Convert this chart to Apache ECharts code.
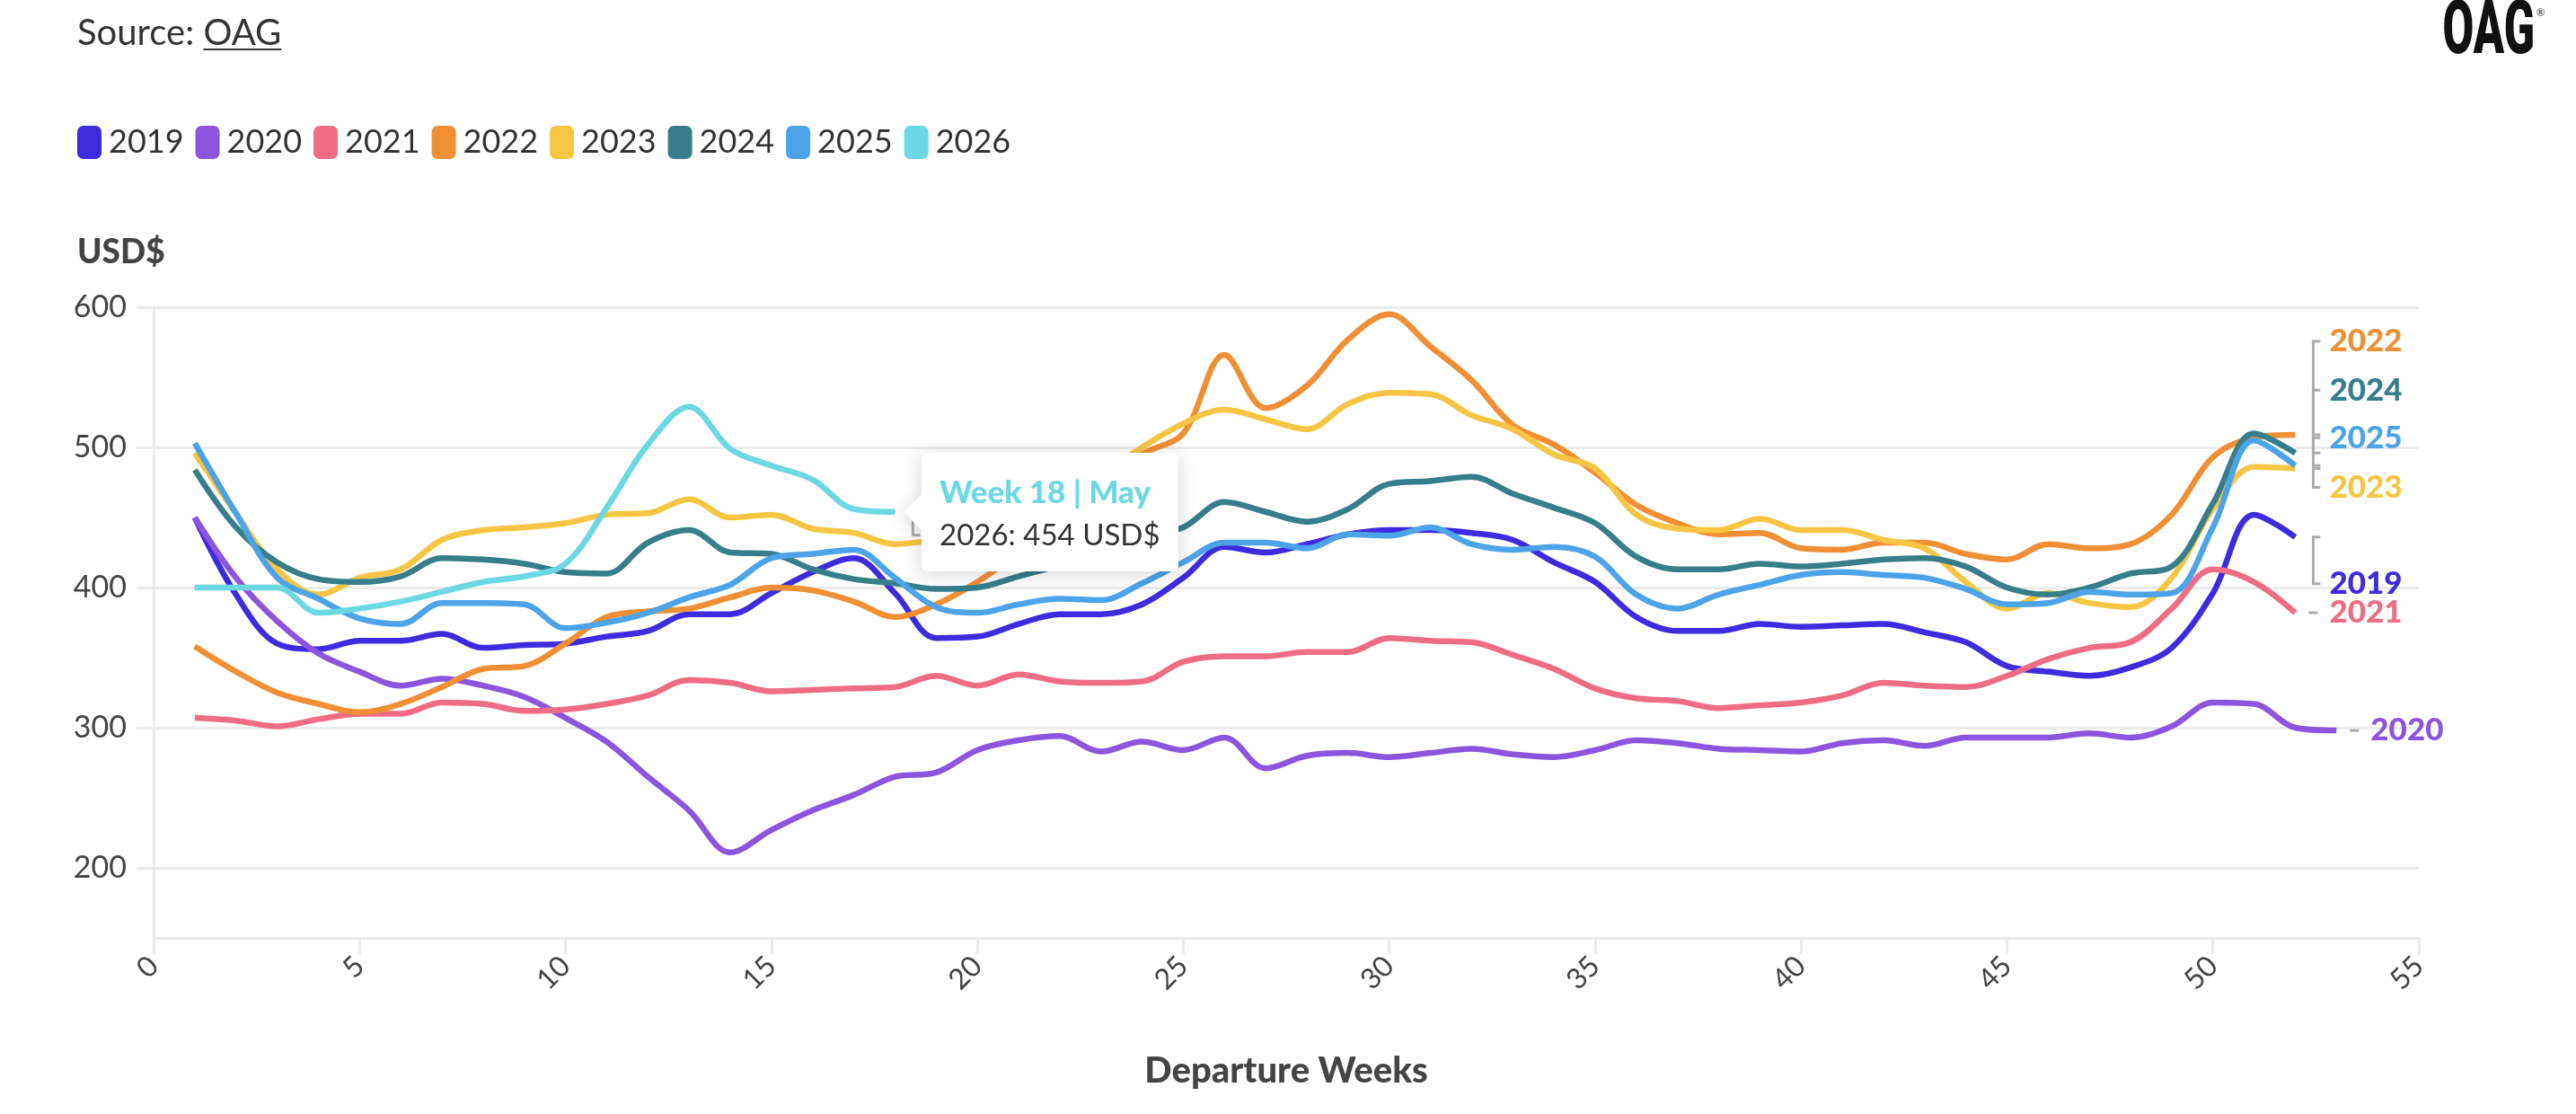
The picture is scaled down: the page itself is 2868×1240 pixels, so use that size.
<!DOCTYPE html>
<html>
<head>
<meta charset="utf-8">
<title>Average fare by departure week</title>
<script src="https://cdn.jsdelivr.net/npm/echarts@6/dist/echarts.min.js"></script>
<style>
html, body { margin: 0; padding: 0; background: #fff; }
#main { width: 2868px; height: 1240px; }
/* little pointer on the left side of the tooltip */
.oag-tip::before {
  content: '';
  position: absolute;
  left: -20px;
  top: 50%;
  margin-top: -20px;
  width: 0;
  height: 0;
  border-style: solid;
  border-width: 20px 20px 20px 0;
  border-color: transparent #fff transparent transparent;
}
</style>
</head>
<body>
<div id="main"></div>
<script>
const weeks = [1, 2, 3, 4, 5, 6, 7, 8, 9, 10, 11, 12, 13, 14, 15, 16, 17, 18, 19, 20,
  21, 22, 23, 24, 25, 26, 27, 28, 29, 30, 31, 32, 33, 34, 35, 36, 37, 38, 39, 40,
  41, 42, 43, 44, 45, 46, 47, 48, 49, 50, 51, 52, 53];

const years = ['2019', '2020', '2021', '2022', '2023', '2024', '2025', '2026'];

const fares2019 = [450, 395, 360, 356, 362, 362, 367, 357, 359, 360, 365, 369, 381, 381, 396, 411, 421, 396, 364, 365,
  374, 381, 381, 388, 407, 429, 425, 431, 438, 441, 441, 439, 434, 418, 404, 379, 369, 369, 374, 372,
  373, 374, 368, 361, 344, 340, 337, 343, 357, 396, 452, 436];
const fares2020 = [450, 407, 376, 353, 340, 330, 335, 330, 322, 307, 290, 265, 241, 211, 227, 241, 252, 265, 268, 284,
  291, 294, 283, 290, 284, 293, 271, 280, 282, 279, 282, 285, 281, 279, 284, 291, 289, 285, 284, 283,
  289, 291, 287, 293, 293, 293, 296, 293, 301, 318, 317, 300, 298];
const fares2021 = [307, 305, 301, 306, 310, 310, 318, 317, 312, 313, 317, 323, 334, 332, 326, 327, 328, 329, 337, 330,
  338, 333, 332, 333, 347, 351, 351, 354, 354, 364, 362, 361, 352, 342, 328, 321, 319, 314, 316, 318,
  323, 332, 330, 329, 337, 349, 357, 361, 385, 413, 404, 382];
const fares2022 = [358, 340, 325, 317, 311, 317, 329, 342, 344, 360, 379, 383, 385, 393, 400, 398, 390, 379, 388, 404,
  425, 448, 470, 495, 510, 566, 528, 544, 577, 595, 572, 548, 516, 502, 482, 459, 446, 438, 439, 428,
  427, 432, 432, 424, 420, 431, 428, 431, 452, 493, 507, 509];
const fares2023 = [496, 453, 413, 395, 407, 413, 434, 441, 443, 446, 452, 453, 463, 450, 452, 442, 439, 431, 434, 438,
  448, 462, 480, 500, 517, 527, 520, 513, 531, 539, 538, 523, 513, 495, 485, 452, 442, 441, 449, 441,
  441, 434, 428, 404, 385, 396, 389, 386, 407, 456, 486, 485];
const fares2024 = [484, 443, 418, 406, 404, 408, 421, 420, 417, 411, 410, 432, 441, 425, 424, 413, 406, 403, 399, 400,
  408, 416, 426, 436, 443, 461, 454, 447, 456, 474, 476, 479, 467, 457, 446, 422, 413, 413, 417, 415,
  417, 420, 421, 415, 400, 395, 400, 410, 415, 460, 510, 496];
const fares2025 = [503, 453, 407, 392, 378, 374, 389, 389, 388, 371, 375, 382, 393, 402, 421, 424, 427, 407, 386, 382,
  388, 392, 391, 403, 418, 432, 432, 428, 438, 437, 443, 431, 427, 429, 422, 395, 385, 395, 402, 409,
  411, 409, 407, 399, 388, 389, 397, 395, 396, 443, 505, 487];
const fares2026 = [400, 400, 400, 382, 385, 390, 397, 404, 408, 417, 457, 502, 529, 499, 487, 477, 456, 454];

const yTicks = [200, 300, 400, 500, 600];

const fares = [fares2019, fares2020, fares2021, fares2022, fares2023, fares2024, fares2025, fares2026];
const colors = ['#3f2bde', '#8c55dd', '#ee6c86', '#f08f34', '#f6c543', '#377d8a', '#4da3e8', '#6cd8e2'];

// how far (px) each end label is pushed away from its line end
const labelShift = { '2019': 52, '2020': 0, '2021': 0, '2022': -104, '2023': 21, '2024': -70, '2025': -31, '2026': 26 };

const FONT = 'Lato, "Noto Sans", sans-serif';
const monthNames = ['Jan', 'Feb', 'Mar', 'Apr', 'May', 'Jun', 'Jul', 'Aug', 'Sep', 'Oct', 'Nov', 'Dec'];

// month of the sunday closing ISO week w of 2026
function monthOf(w) {
  const d = new Date(Date.UTC(2025, 11, 29 + (w - 1) * 7 + 6));
  return monthNames[d.getUTCMonth()];
}

const ctx = document.createElement('canvas').getContext('2d');
ctx.font = '40px ' + FONT;
const sourceW = ctx.measureText('Source: ').width;
const oagW = ctx.measureText('OAG').width;

const chart = echarts.init(document.getElementById('main'));

const lineSeries = years.map((name, i) => ({
  name: name,
  type: 'line',
  data: fares[i].map((v, k) => [weeks[k], v]),
  smooth: 0.35,
  showSymbol: name === '2026',
  symbol: name === '2026' ? 'circle' : 'none',
  symbolSize: 2,
  lineStyle: { width: 6.5, color: colors[i] },
  itemStyle: { color: colors[i] },
  emphasis: { disabled: true },
  z: 2
}));

const endPoints = years.map((name, i) => {
  const v = fares[i];
  return [weeks[v.length - 1], v[v.length - 1], i];
});

const labelSeries = {
  type: 'custom',
  silent: true,
  z: 3,
  data: endPoints,
  encode: { x: 0, y: 1 },
  renderItem: function (params, api) {
    const i = api.value(2);
    const p = api.coord([api.value(0), api.value(1)]);
    const xb = p[0] + 20;
    const ly = p[1] + labelShift[years[i]];
    const pts = Math.abs(ly - p[1]) < 2
      ? [[xb - 5, ly], [xb + 5, ly]]
      : [[xb + 8, p[1]], [xb, p[1]], [xb, ly], [xb + 8, ly]];
    return {
      type: 'group',
      children: [
        { type: 'polyline', shape: { points: pts }, style: { stroke: '#acacac', lineWidth: 3, fill: null } },
        {
          type: 'text', x: xb + 18, y: ly,
          style: { text: years[i], fill: colors[i], font: '900 35px ' + FONT, align: 'left', verticalAlign: 'middle' }
        }
      ]
    };
  }
};

const option = {
  animation: false,
  textStyle: { fontFamily: FONT },
  graphic: [
    { type: 'text', x: 86, y: 37, style: { text: 'Source: ', font: '40px ' + FONT, fill: '#333', verticalAlign: 'middle' } },
    { type: 'text', x: 86 + sourceW, y: 37, style: { text: 'OAG', font: '40px ' + FONT, fill: '#333', verticalAlign: 'middle' } },
    { type: 'line', shape: { x1: 86 + sourceW, y1: 55, x2: 86 + sourceW + oagW, y2: 55 }, style: { stroke: '#333', lineWidth: 2 } },
    { type: 'text', x: 2822, y: 38, scaleX: 0.6, style: { text: 'OAG', font: '900 84px Roboto, sans-serif', fill: '#111', align: 'right', verticalAlign: 'middle' } },
    { type: 'text', x: 2824, y: 14, style: { text: '®', font: '11px ' + FONT, fill: '#111', verticalAlign: 'middle' } },
    { type: 'text', x: 86, y: 281, style: { text: 'USD$', font: '900 37px ' + FONT, fill: '#444', verticalAlign: 'middle' } }
  ],
  legend: {
    data: years,
    left: 86,
    top: 140,
    padding: 0,
    icon: 'roundRect',
    itemWidth: 27,
    itemHeight: 37,
    itemGap: 13,
    selectedMode: false,
    textStyle: { fontSize: 36, color: '#333', fontFamily: FONT, padding: [0, 0, 0, 3] }
  },
  tooltip: {
    trigger: 'item',
    alwaysShowContent: true,
    transitionDuration: 0,
    className: 'oag-tip',
    backgroundColor: '#fff',
    borderWidth: 0,
    padding: [18, 20],
    extraCssText: 'border-radius:6px;box-shadow:none;filter:drop-shadow(0 3px 10px rgba(0,0,0,0.16));',
    position: function (point, params, dom, rect, size) {
      return [point[0] + 30, point[1] - size.contentSize[1] / 2];
    },
    formatter: function (params) {
      const wk = params.value[0];
      const fam = FONT.replace(/"/g, "'");
      return '<div style="font:900 35px ' + fam + ';color:' + params.color + ';line-height:48px">' +
        'Week ' + wk + ' | ' + monthOf(wk) + '</div>' +
        '<div style="font:33px ' + fam + ';color:#333;line-height:48px">' +
        params.seriesName + ': ' + Math.round(params.value[1]) + ' USD$</div>';
    }
  },
  grid: { left: 171, right: 175, top: 342, bottom: 196 },
  xAxis: {
    type: 'value',
    min: 0,
    max: 55,
    interval: 5,
    name: 'Departure Weeks',
    nameLocation: 'middle',
    nameGap: 128,
    nameTextStyle: { fontSize: 40, fontWeight: 900, color: '#444', fontFamily: FONT },
    axisLine: { lineStyle: { color: '#ebebeb', width: 3 } },
    axisTick: { show: true, length: 18, lineStyle: { color: '#ebebeb', width: 3 } },
    axisLabel: { rotate: 45, margin: 26, fontSize: 32, color: '#444', fontFamily: FONT },
    splitLine: { show: false }
  },
  yAxis: {
    type: 'value',
    min: 150,
    max: 600,
    axisLine: { show: true, lineStyle: { color: '#ebebeb', width: 3 } },
    axisTick: { show: true, length: 19, customValues: yTicks, lineStyle: { color: '#ebebeb', width: 3 } },
    axisLabel: { customValues: yTicks, margin: 30, fontSize: 34, color: '#444', fontFamily: FONT },
    splitLine: { show: true, lineStyle: { color: '#ebebeb', width: 3 } }
  },
  series: lineSeries.concat([labelSeries])
};

chart.setOption(option);
chart.dispatchAction({ type: 'showTip', seriesIndex: 7, dataIndex: 17 });
</script>
</body>
</html>
